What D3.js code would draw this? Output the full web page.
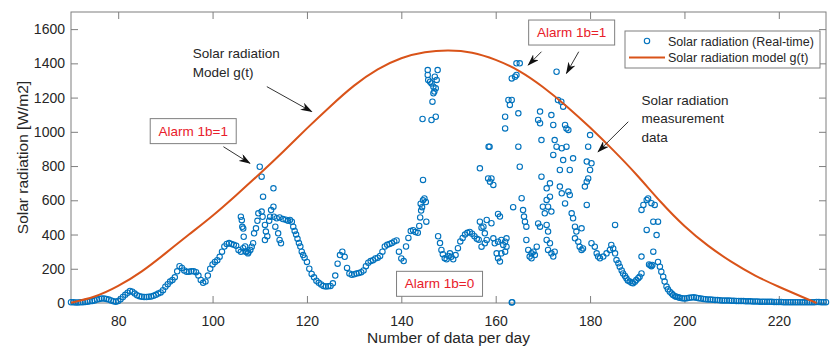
<!DOCTYPE html>
<html lang="en">
<head>
    <meta charset="utf-8">
    <title>Solar radiation</title>
    <script src="https://d3js.org/d3.v7.min.js"></script>
    <style>
        body { margin: 0; background: #fff; }
        text { font-family: "Liberation Sans", Arial, Helvetica, sans-serif; fill: #262626; }
    </style>
</head>
<body>
<div id="chart"></div>
<script>
    // Axis ticks
    const xTicks = [80, 100, 120, 140, 160, 180, 200, 220];
    const yTicks = [0, 200, 400, 600, 800, 1000, 1200, 1400, 1600];

    // Model g(t)
    const modelDays = [70, 75, 80, 85, 90, 95, 100, 105, 110, 115, 120, 125, 130, 135, 140, 145, 150,
        155, 160, 165, 170, 175, 180, 185, 190, 195, 200, 205, 210, 215, 220, 225, 228];
    const modelValues = [2, 38, 100, 185, 290, 400, 510, 630, 755, 885, 1020, 1150, 1270, 1365, 1430, 1465, 1475,
        1462, 1420, 1355, 1262, 1150, 1025, 890, 745, 590, 450, 335, 240, 160, 95, 35, 0];

    // Real-time measurements [day index, W/m2]
    const morningReadings = [
        [70,5],[70.5,4],[71,3],[71.5,3],[72,4],[72.5,5],[73,6],[73.5,8],[74,10],[74.5,12],[75,15],[75.5,20],
        [76,24],[76.5,27],[77,26],[77.5,24],[78,20],[78.5,15],[79,10],[79.5,8],[80,12],[80.5,22],[81,35],
        [81.5,48],[82,60],[82.5,70],[83,66],[83.5,55],[84,45],[84.5,40],[85,37],[85.5,35],[86,35],[86.5,36],
        [87,38],[87.5,42],[88,48],[88.5,55],[89,62],[89.5,75],[90,95],[90.5,110],[91,125],[91.5,135],[92,150],
        [92.5,185],[93,215],[93.5,205],[94,190],[94.5,182],[95,183],[95.5,186],[96,185],[96.5,180],[97,160],
        [97.5,135],[98,118],[98.5,125],[99,160],[99.5,200],[100,225],[100.5,240],[101,250],[101.5,270],
        [102,300],[102.5,330],[103,345],[103.5,350],[104,345],[104.5,340],[105,335],[105.5,310],[106,300],
        [106.5,320],[107,300],[107.5,290],
        [106,504],[106.2,484],[106.3,445],[106.5,435],[106.6,387],[106.9,330],[107.2,300],[107.6,295],
        [108,310],[108.3,329],[108.6,349],[108.8,407],[109.2,436],[109.5,480],[109.7,524],[110,796],
        [110.4,738],[110.4,534],[110.6,504],[110.7,621],[111.1,456],[111.3,417],[111.1,368],[111.6,390],
        [112,480],[112.2,504],[112.4,543],[112.9,670],[112.9,563],[113,504],[113.3,446],[113.6,495],
        [113.9,407],[114.2,368],[114.5,349],[114.2,500],[114.9,490],[115.5,487],[116,480],[116.4,485],
        [116.8,475],[117.1,446],[117.4,420],[117.7,400],[118,375],[118.3,350],[118.6,330],[118.9,300],
        [119.2,280],[119.5,265],
        [120,240],[120.5,200],[121,170],[121.5,150],[122,130],[122.5,118],[123,108],[123.5,100],[124,97],
        [124.5,98],[125,100],[125.5,115],[126,160],[126.5,230],[127,280],[127.5,300],[128,270],[128.5,205],
        [129,172],[129.5,165],[130,168],[130.5,172],[131,175],[131.5,180],[132,190],[132.5,215],[133,235],
        [133.5,245],[134,250],[134.5,260],[135,265],[135.5,275],[136,300],[136.5,330],[137,340],[137.5,345],
        [138,350],[138.5,360],[139,365],[139.5,300],[140,260],[140.5,245],[141,330],[141.5,380],[142,420],
        [142.5,425],[143,415],[143.5,410]
    ];

    const middayReadings = [
        [143.8,450],[144,500],[144.2,540],[144.4,560],[144.6,600],[144.9,611],[145.2,590],[144.6,719],
        [145.3,475],[144.1,580],
        [145.6,1361],[147.7,1361],[145.7,1303],[146.1,1293],[147.1,1322],[147.5,1303],[146.4,1283],
        [146.8,1264],[147.3,1254],[147,1235],[146.8,1225],[146.6,1176],[144.5,1075],[146.4,1069],
        [147.3,1088],[145.6,1332],
        [147.8,390],[148.2,350],[148.5,310],[148.8,285],[149.2,262],[149.6,255],[150,275],[150.3,290],
        [150.6,270],[151,255],[151.5,280],[152,320],[152.5,360],[153,380],[153.5,400],[154,410],[154.5,415],
        [155,405],[155.5,390],[156,375],[156.4,370],[156.65,475],[157,440],[157.4,446],[157.7,407],
        [157.7,349],[157,329],[158.1,368],[158.1,485],[159.1,466],[159.5,378],[159.8,349],[160.2,290],
        [160.5,358],[160.5,261],[160.9,242],[161.2,368],[161.2,290],[161.6,339],[162,358],[162,300],
        [162.3,378],[162.3,329],[160.5,520],[160.9,505],[156.65,787],[158.4,728],[158.8,709],[159.1,728],
        [159.5,690],[158.5,913],[158.7,913],[163.4,3],[163.5,5],
        [164.4,1400],[165.1,1400],[163.4,1312],[164.1,1322],[164.4,1332],[162.7,1186],[163.4,1186],
        [163,1157],[162,1088],[162,1020],[164.8,1108],[164.8,913],[165.1,796],[163.7,560],
        [165.5,612],[165.8,543],[166,505],[166.2,475],[166.5,446],[166.5,368],[166.9,310],[167.2,271],
        [167.6,290],[168,300],[168.3,280],[167.6,261],[168.7,329],
        [169,465],[169.4,446],[170,563],[170.4,524],[170.8,456],[171.1,417],[170.8,368],[171.5,349],
        [171.1,310],[171.8,290],[172.2,271],[172.5,300],[171.8,534],
        [169.4,1118],[169,1069],[169.4,1050],[173.2,1186],[173.9,1176],[174.3,1147],[171.8,1098],
        [172.2,1040],[174.7,1040],[175,1020],[175.4,1011],[169.7,952],[172.5,952],[172.9,913],[174,904],
        [175,913],[172.9,1351],[169.7,738],[171.5,699],[170.8,670],[171.5,621],[170.8,602],[171.1,563],
        [173.6,680],[174,641],[175.4,651],[175.7,631],[174.7,582],[173.6,777],[175.7,777],[172.2,865],
        [174.3,835],[176.4,845],
        [176.1,524],[176.4,495],[176.8,446],[177.1,417],[177.8,329],[178.2,310],[178.5,319],[177.5,358],
        [176.8,378],[178.2,436],
        [179.3,709],[178.9,680],[179.6,728],[179.3,573],[180,777],[179.3,826],[180.3,816],[180,981],[179.6,913]
    ];

    const afternoonReadings = [
        [180.3,349],[181,329],[181.4,290],[181.7,271],[182.1,261],[182.8,271],[183.5,290],[184.2,310],
        [184.5,339],[184.9,319],[185.3,290],[185.6,251],[186,232],[186.3,212],[186.7,190],[187,173],
        [187.4,158],[187.7,144],[188,132],[188.4,125],[188.8,118],[189.1,115],[189.5,124],[189.8,134],
        [190.2,145],[190.5,154],[190.9,173],[185.3,456],
        [190.9,544],[191.3,573],[192,602],[192.3,611],[193,583],[193.7,573],[193.4,475],[194.4,475],
        [192,427],[194.1,397],[193.4,300],[190.9,271],[192.5,225],[192.8,220],[193,215],[193.2,222],
        [194.4,240],[194.8,212],[195.1,183],[195.5,154],[195.8,125],[196.2,96],[196.5,80],[196.9,66],
        [197.3,55],[197.6,47],[198,40],[198.3,37],[198.7,33],[199,30],[199.5,28],[200,27],[200.5,28],
        [201,30],[201.5,32],[202,33],[202.5,31],[203,28],[203.5,26],[204,24],[204.5,22],[205,21],
        [205.5,20],[206,19],[206.5,18],[207,17],[207.5,16],[208,15],[208.5,15],[209,14],[209.5,14],
        [210,13],[210.5,13],[211,12],[211.5,12],[212,11],[212.5,11],[213,10],[213.5,10],[214,10],
        [214.5,9],[215,9],[215.5,9],[216,8],[216.5,8],[217,8],[217.5,7],[218,7],[218.5,7],[219,6],
        [219.5,6],[220,6],[220.5,6],[221,5],[221.5,5],[222,5],[222.5,5],[223,5],[223.5,5],[224,5],
        [224.5,5],[225,4],[225.5,4],[226,4],[226.5,5],[227,5],[227.5,5],[228,6],[228.5,6],[229,5],
        [229.5,5],[230,5]
    ];

    const measured = morningReadings.concat(middayReadings, afternoonReadings);

    // Annotations (positions in data units)
    const notes = [
        {lines: ["Solar radiation", "Model g(t)"], day: 95.8, value: 1431},
        {lines: ["Solar radiation", "measurement", "data"], day: 190.9, value: 1157}
    ];
    const alarms = [
        {label: "Alarm 1b=1", day: 95.9, value: 1007},
        {label: "Alarm 1b=1", day: 176.1, value: 1583},
        {label: "Alarm 1b=0", day: 148.1, value: 115}
    ];
    const arrows = [
        {from: [111.5, 1264], to: [121, 1118]},
        {from: [102.3, 913], to: [107.9, 816]},
        {from: [169.7, 1468], to: [166.9, 1390]},
        {from: [177.6, 1468], to: [175, 1342]},
        {from: [188.1, 1059], to: [181.7, 884]}
    ];

    const W = 831, H = 351;
    const margin = {top: 12, right: 5, bottom: 48, left: 71},
        width = W - margin.left - margin.right,
        height = H - margin.top - margin.bottom;

    const blue = "#0072BD", orange = "#D95319", axisGrey = "#7f7f7f";

    const svg = d3.select("#chart")
        .append("svg")
        .attr("width", W)
        .attr("height", H);

    svg.append("defs").append("marker")
        .attr("id", "head")
        .attr("viewBox", "0 0 12 8")
        .attr("refX", 11)
        .attr("refY", 4)
        .attr("markerWidth", 12)
        .attr("markerHeight", 8)
        .attr("markerUnits", "userSpaceOnUse")
        .attr("orient", "auto")
        .append("path")
        .attr("d", "M0,0 L12,4 L0,8 L3.5,4 Z")
        .attr("fill", "#111");

    const g = svg.append("g")
        .attr("transform", `translate(${margin.left},${margin.top})`);

    const x = d3.scaleLinear().domain([70, 230]).range([0, width]);
    const y = d3.scaleLinear().domain([0, 1700]).range([height, 0]);

    // Axes (MATLAB style: ticks pointing inward on all four sides)
    const styleAxis = sel => {
        sel.select(".domain").remove();
        sel.selectAll(".tick line").attr("stroke", axisGrey);
        sel.selectAll("text").style("font-size", "14px").attr("fill", "#262626");
    };
    g.append("g")
        .attr("transform", `translate(0,${height})`)
        .call(d3.axisBottom(x).tickValues(xTicks).tickSizeInner(-7).tickSizeOuter(0).tickPadding(13))
        .call(styleAxis);
    g.append("g")
        .call(d3.axisTop(x).tickValues(xTicks).tickSizeInner(-7).tickSizeOuter(0).tickFormat(""))
        .call(styleAxis);
    g.append("g")
        .call(d3.axisLeft(y).tickValues(yTicks).tickFormat(d3.format("d"))
            .tickSizeInner(-7).tickSizeOuter(0).tickPadding(6))
        .call(styleAxis);
    g.append("g")
        .attr("transform", `translate(${width},0)`)
        .call(d3.axisRight(y).tickValues(yTicks).tickSizeInner(-7).tickSizeOuter(0).tickFormat(""))
        .call(styleAxis);

    g.append("rect")
        .attr("width", width)
        .attr("height", height)
        .attr("fill", "none")
        .attr("stroke", axisGrey);

    // Measured points
    g.append("g")
        .selectAll("circle")
        .data(measured)
        .join("circle")
        .attr("cx", d => x(d[0]))
        .attr("cy", d => y(d[1]))
        .attr("r", 2.7)
        .attr("fill", "none")
        .attr("stroke", blue)
        .attr("stroke-width", 1.1);

    // Model curve
    const model = modelDays.map((d, i) => [d, modelValues[i]]);
    g.append("path")
        .datum(model)
        .attr("fill", "none")
        .attr("stroke", orange)
        .attr("stroke-width", 2)
        .attr("d", d3.line().x(d => x(d[0])).y(d => y(d[1])).curve(d3.curveNatural));

    // Axis titles
    svg.append("text")
        .attr("x", margin.left + width / 2)
        .attr("y", 343)
        .attr("text-anchor", "middle")
        .style("font-size", "15.5px")
        .text("Number of data per day");
    svg.append("text")
        .attr("transform", `translate(28,${margin.top + height / 2}) rotate(-90)`)
        .attr("text-anchor", "middle")
        .style("font-size", "15.5px")
        .text("Solar radiation [W/m2]");

    // Arrows
    g.selectAll(".arrow")
        .data(arrows)
        .join("line")
        .attr("class", "arrow")
        .attr("x1", d => x(d.from[0]))
        .attr("y1", d => y(d.from[1]))
        .attr("x2", d => x(d.to[0]))
        .attr("y2", d => y(d.to[1]))
        .attr("stroke", "#333")
        .attr("stroke-width", 1)
        .attr("marker-end", "url(#head)");

    // Text notes
    notes.forEach(n => {
        const t = g.append("text")
            .attr("x", x(n.day))
            .attr("y", y(n.value))
            .style("font-size", "13.5px");
        n.lines.forEach((l, i) => {
            t.append("tspan")
                .attr("x", x(n.day))
                .attr("dy", i === 0 ? 0 : 18.5)
                .text(l);
        });
    });

    // Alarm boxes
    alarms.forEach(a => {
        const cx = x(a.day), cy = y(a.value);
        g.append("rect")
            .attr("x", cx - 43)
            .attr("y", cy - 12)
            .attr("width", 86)
            .attr("height", 25)
            .attr("fill", "#fff")
            .attr("stroke", axisGrey);
        g.append("text")
            .attr("x", cx)
            .attr("y", cy + 5)
            .attr("text-anchor", "middle")
            .style("fill", "#e8202a")
            .style("font-size", "13.5px")
            .text(a.label);
    });

    // Legend
    const legend = svg.append("g").attr("transform", "translate(625,31)");
    legend.append("rect")
        .attr("width", 195)
        .attr("height", 37)
        .attr("fill", "#fff")
        .attr("stroke", axisGrey);
    legend.append("circle")
        .attr("cx", 22).attr("cy", 10).attr("r", 2.7)
        .attr("fill", "none").attr("stroke", blue).attr("stroke-width", 1.1);
    legend.append("text")
        .attr("x", 43).attr("y", 14.5)
        .style("font-size", "12.5px")
        .text("Solar radiation (Real-time)");
    legend.append("line")
        .attr("x1", 4).attr("x2", 40).attr("y1", 26.5).attr("y2", 26.5)
        .attr("stroke", orange).attr("stroke-width", 2);
    legend.append("text")
        .attr("x", 43).attr("y", 31)
        .style("font-size", "12.5px")
        .text("Solar radiation model g(t)");
</script>
</body>
</html>
